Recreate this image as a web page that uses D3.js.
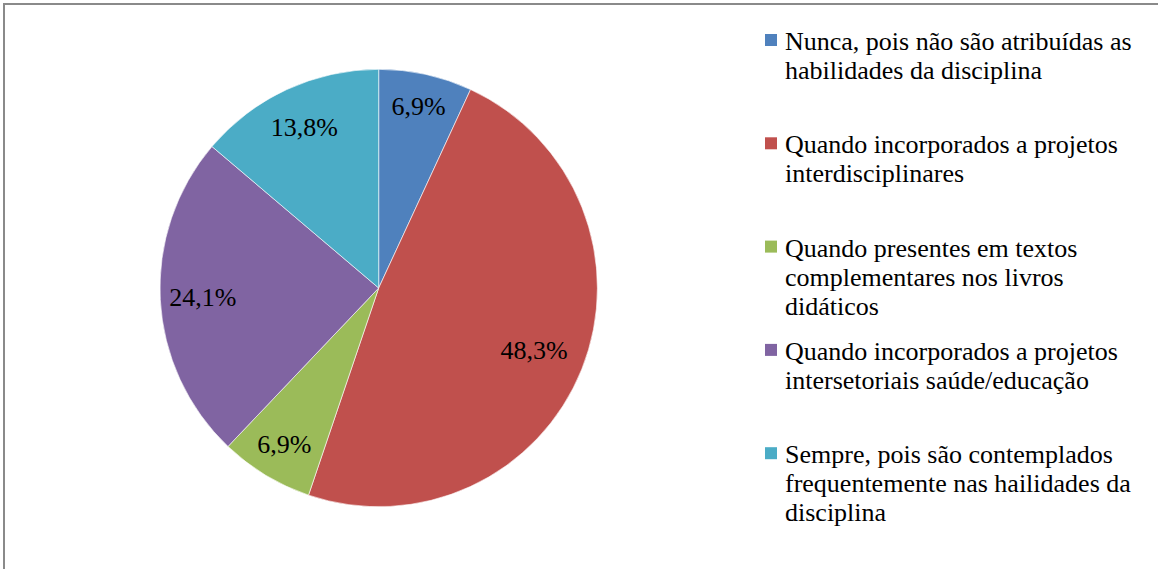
<!DOCTYPE html>
<html>
<head>
<meta charset="utf-8">
<script src="https://cdn.jsdelivr.net/npm/d3@7"></script>
<style>
  html, body { margin: 0; padding: 0; background: #fff; }
  svg { display: block; }
</style>
</head>
<body>
<svg id="chart" width="1158" height="569"></svg>
<script>
// categorias e valores (%)
const categories = [
    ['Nunca, pois não são atribuídas as', 'habilidades da disciplina'],
    ['Quando incorporados a projetos', 'interdisciplinares'],
    ['Quando presentes em textos', 'complementares nos livros', 'didáticos'],
    ['Quando incorporados a projetos', 'intersetoriais saúde/educação'],
    ['Sempre, pois são contemplados', 'frequentemente nas hailidades da', 'disciplina'],
];
const values = [6.9, 48.3, 6.9, 24.1, 13.8];
const colors = ['#4F81BD', '#C0504D', '#9BBB59', '#8064A2', '#4BACC6'];

const FONT = "'Liberation Serif', 'Times New Roman', serif";

const svg = d3.select('#chart');
const width = +svg.attr('width');
const height = +svg.attr('height');

// moldura (só aparecem a esquerda e o topo)
svg.append('rect')
    .attr('x', 4)
    .attr('y', 4)
    .attr('width', width + 20)
    .attr('height', height + 20)
    .attr('fill', 'none')
    .attr('stroke', '#8a8a8a')
    .attr('stroke-width', 2);

const cx = 378.7, cy = 288, radius = 218.7;
// distancia dos rotulos ao centro (fracao do raio), como no Excel
const labelPos = [0.85, 0.765, 0.835, 0.805, 0.81];
const data = values.map((v, i) => ({ value: v, label: categories[i], color: colors[i] }));

const pie = d3.pie()
    .value(d => d.value)
    .sort(null);
const arc = d3.arc()
    .innerRadius(0)
    .outerRadius(radius);
const labelArc = d3.arc()
    .innerRadius(d => radius * labelPos[d.index])
    .outerRadius(d => radius * labelPos[d.index]);

const g = svg.append('g')
    .attr('transform', `translate(${cx},${cy})`);

const arcs = pie(data);
g.selectAll('path')
    .data(arcs)
    .enter()
    .append('path')
    .attr('d', arc)
    .attr('fill', d => d.data.color)
    .attr('stroke', '#ffffff')
    .attr('stroke-width', 0.6);

g.selectAll('text.pct')
    .data(arcs)
    .enter()
    .append('text')
    .attr('class', 'pct')
    .attr('transform', d => `translate(${labelArc.centroid(d)})`)
    .attr('text-anchor', 'middle')
    .attr('dy', '0.33em')
    .style('font-family', FONT)
    .style('font-size', '26px')
    .style('fill', '#000')
    .text(d => d3.format('.1f')(d.data.value).replace('.', ',') + '%');

// legenda
const legend = svg.append('g')
    .attr('transform', 'translate(765,50)');
const item = legend.selectAll('g')
    .data(data)
    .enter()
    .append('g')
    .attr('transform', (d, i) => `translate(0,${i * 103.3})`);
item.append('rect')
    .attr('x', 0)
    .attr('y', -16)
    .attr('width', 12)
    .attr('height', 12)
    .attr('fill', d => d.color);
const txt = item.append('text')
    .attr('x', 20)
    .attr('y', 0)
    .style('font-family', FONT)
    .style('font-size', '26px')
    .style('fill', '#000');
txt.selectAll('tspan')
    .data(d => d.label)
    .enter()
    .append('tspan')
    .attr('x', 20)
    .attr('dy', (d, i) => i === 0 ? 0 : 29)
    .text(d => d);
</script>
</body>
</html>
